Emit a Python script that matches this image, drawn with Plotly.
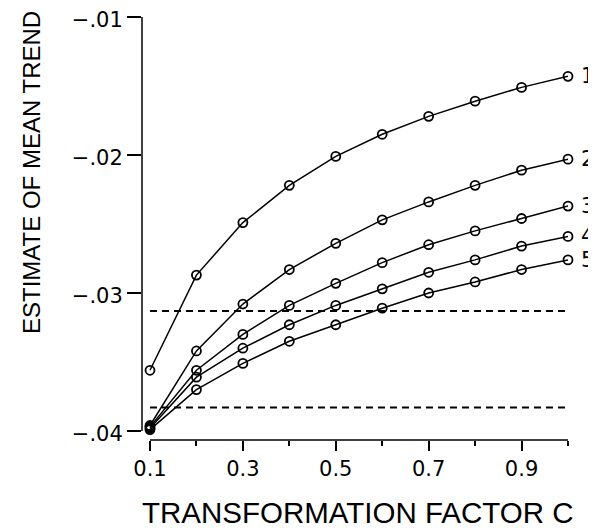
import plotly.graph_objects as go

# ---- data ----
c_values = [0.1, 0.2, 0.3, 0.4, 0.5, 0.6, 0.7, 0.8, 0.9, 1.0]
series_names = ["1", "2", "3", "4", "5"]
s1 = [-0.0356, -0.0287, -0.0249, -0.0222, -0.0201, -0.0185, -0.0172, -0.0161, -0.0151, -0.0143]
s2 = [-0.0396, -0.0342, -0.0308, -0.0283, -0.0264, -0.0247, -0.0234, -0.0222, -0.0211, -0.0203]
s3 = [-0.0397, -0.0356, -0.0330, -0.0309, -0.0293, -0.0278, -0.0265, -0.0255, -0.0246, -0.0237]
s4 = [-0.0398, -0.0361, -0.0340, -0.0323, -0.0309, -0.0297, -0.0285, -0.0276, -0.0266, -0.0259]
s5 = [-0.0399, -0.0370, -0.0351, -0.0335, -0.0323, -0.0311, -0.0300, -0.0292, -0.0283, -0.0276]
ref_levels = [-0.0313, -0.0383]
ref_x = [0.1, 1.0]

y_tickvals = [-0.01, -0.02, -0.03, -0.04]
y_ticktext = ["\u2212.01", "\u2212.02", "\u2212.03", "\u2212.04"]
x_tickvals = [0.1, 0.3, 0.5, 0.7, 0.9]
x_ticktext = ["0.1", "0.3", "0.5", "0.7", "0.9"]
x_minor_vals = [0.2, 0.4, 0.6, 0.8, 1.0]

all_series = [s1, s2, s3, s4, s5]

fig = go.Figure()

for lvl in ref_levels:
    fig.add_trace(go.Scatter(
        x=ref_x, y=[lvl, lvl], mode="lines",
        line=dict(color="black", width=2, dash="7px,5px"),
        showlegend=False, hoverinfo="skip", cliponaxis=False))

for name, ys in zip(series_names, all_series):
    fig.add_trace(go.Scatter(
        x=c_values, y=ys, mode="lines+markers", name=name,
        line=dict(color="black", width=1.5),
        marker=dict(symbol="circle-open", size=9, color="black",
                    line=dict(width=1.8, color="black")),
        showlegend=False, cliponaxis=False))
    fig.add_annotation(
        x=c_values[-1], y=ys[-1], xref="x", yref="y",
        text=name, showarrow=False, xanchor="left", yanchor="middle",
        xshift=11, font=dict(family="DejaVu Sans", size=21, color="black"))

# axis lines (offset style)
fig.add_shape(type="line", xref="paper", yref="y", x0=0, x1=0,
              y0=y_tickvals[-1], y1=y_tickvals[0],
              line=dict(color="black", width=1.5))
fig.add_shape(type="line", xref="x", yref="paper", x0=c_values[0], x1=c_values[-1],
              y0=0, y1=0, line=dict(color="black", width=1.5))

# axis titles
fig.add_annotation(text="ESTIMATE OF MEAN TREND", xref="paper", yref="paper",
                   x=(31 - 142) / 426, y=(440 - 173) / 423, textangle=-90,
                   showarrow=False, xanchor="center", yanchor="middle",
                   font=dict(family="Liberation Sans", size=24, color="black"))
fig.add_annotation(text="TRANSFORMATION FACTOR C", xref="paper", yref="paper",
                   x=(358 - 142) / 426, y=(440 - 512) / 423,
                   showarrow=False, xanchor="center", yanchor="middle",
                   font=dict(family="Liberation Sans", size=29.5, color="black"))

# the page body adds an 8px margin, so the figure is 8px smaller
fig.update_layout(
    width=588, height=523, autosize=False,
    margin=dict(l=134, r=28, t=9, b=91),
    paper_bgcolor="white", plot_bgcolor="white",
    xaxis=dict(range=[0.0828, 1.0], tickvals=x_tickvals, ticktext=x_ticktext,
               ticks="outside", ticklen=10, tickwidth=1.5, tickcolor="black",
               showgrid=False, zeroline=False, showline=False, automargin=False,
               ticklabeloverflow="allow",
               tickfont=dict(family="DejaVu Sans", size=21, color="black"),
               minor=dict(tickvals=x_minor_vals, ticks="outside", ticklen=5,
                          tickwidth=1.5, tickcolor="black", showgrid=False)),
    yaxis=dict(range=[-0.040652, -0.01], tickvals=y_tickvals, ticktext=y_ticktext,
               ticks="outside", ticklen=14, tickwidth=1.5, tickcolor="black",
               showgrid=False, zeroline=False, showline=False, automargin=False,
               ticklabeloverflow="allow", ticklabelshift=3,
               tickfont=dict(family="DejaVu Sans", size=21, color="black")),
)

fig.write_html("out.html")
